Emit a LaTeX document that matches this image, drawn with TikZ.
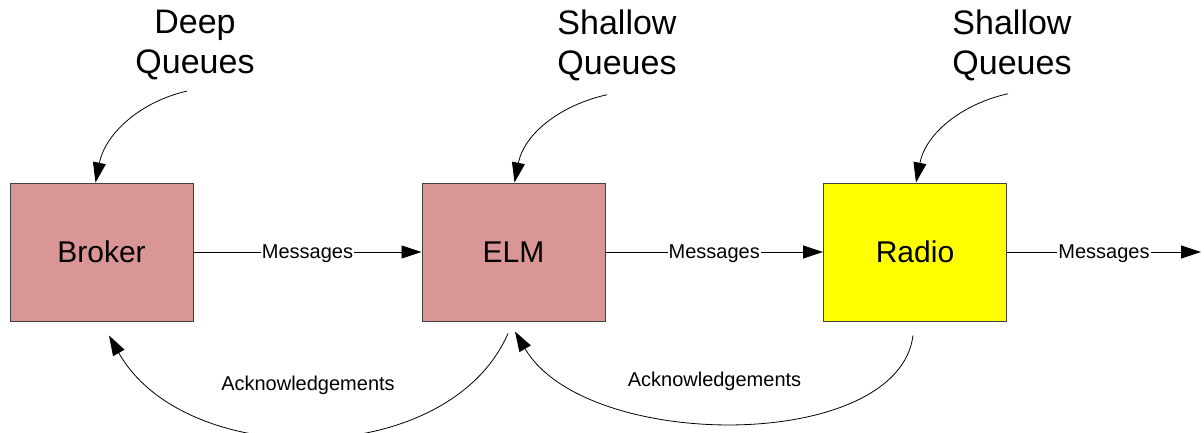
\documentclass[tikz,border=0pt]{standalone}
\usepackage{fontspec}
\setmainfont{Liberation Sans}
\usetikzlibrary{arrows.meta,calc}

\definecolor{boxpink}{HTML}{D99694}
\definecolor{boxyellow}{HTML}{FFFF00}
\definecolor{boxedge}{HTML}{404040}

\tikzset{
  stage/.style={draw=boxedge, line width=1pt, minimum width=183pt, minimum height=138pt,
    inner sep=0pt, font=\fontsize{30}{36}\selectfont},
  queuelabel/.style={align=center, inner sep=0pt, font=\fontsize{34}{40}\selectfont},
  flowlabel/.style={fill=white, inner sep=1pt, text depth=0pt, font=\fontsize{20}{24}\selectfont},
  acklabel/.style={inner sep=0pt, anchor=base, font=\fontsize{20}{24}\selectfont},
  link/.style={line width=0.8pt, -{Triangle[length=20pt,width=13pt]}}
}

\begin{document}
\begin{tikzpicture}[x=1pt, y=-1pt]
  \useasboundingbox (0,0) rectangle (1204,432);

  % processing stages
  \node[stage, fill=boxpink]   (broker) at (101.5,252) {Broker};
  \node[stage, fill=boxpink]   (elm)    at (513.5,252) {ELM};
  \node[stage, fill=boxyellow] (radio)  at (915,252)   {Radio};
  \coordinate (out) at (1201,252);

  % queue annotations
  \node[queuelabel] (deep)  at (195,45)  {Deep\\Queues};
  \node[queuelabel] (shal1) at (617,45)  {Shallow\\Queues};
  \node[queuelabel] (shal2) at (1012,45) {Shallow\\Queues};

  \draw[link] ($(deep.south)+(-8,11)$) .. controls +(-45,10) and +(10,-50) .. ($(broker.north)+(-6,0)$);
  \draw[link] ($(shal1.south)+(-10,14)$) .. controls +(-45,10) and +(10,-50) .. ($(elm.north)+(1,0)$);
  \draw[link] ($(shal2.south)+(-4,13)$) .. controls +(-45,10) and +(10,-50) .. ($(radio.north)+(1,0)$);

  % message flow
  \draw[link] (broker.east) -- node[flowlabel] {Messages} (elm.west);
  \draw[link] (elm.east) -- node[flowlabel] {Messages} (radio.west);
  \draw[link] (radio.east) -- node[flowlabel] {Messages} (out);

  % acknowledgement loops
  \draw[link] ($(elm.south)+(-5.5,12)$) .. controls +(-60,137) and +(76,135) .. ($(broker.south)+(7.5,14)$);
  \draw[link] ($(radio.south)+(-2,14)$) .. controls +(-15,117) and +(71,121) .. ($(elm.south)+(1.5,10)$);

  \node[acklabel] (ack1) at (308,390) {Acknowledgements};
  \node[acklabel] (ack2) at (714.5,386) {Acknowledgements};
\end{tikzpicture}
\end{document}
